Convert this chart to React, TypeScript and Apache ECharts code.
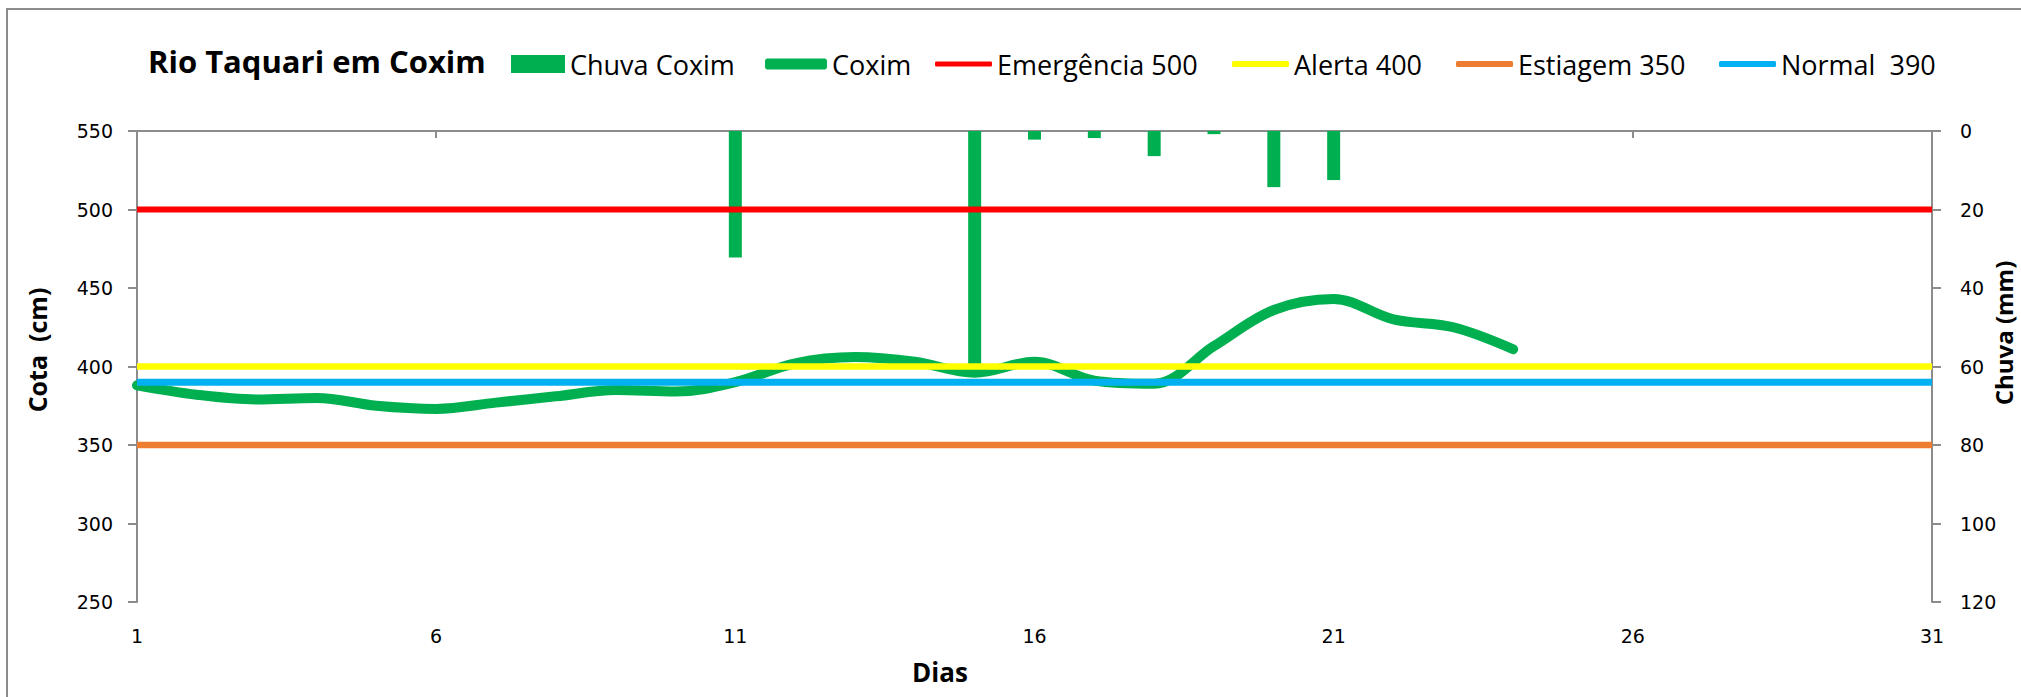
import React, { useEffect, useRef } from "react";
import * as echarts from "echarts";

// ---- data ----
const coximDays = [1, 2, 3, 4, 5, 6, 7, 8, 9, 10, 11, 12, 13, 14, 15, 16, 17, 18, 19, 20, 21, 22, 23, 24];
const coximCota = [388, 382, 379, 380, 375, 373, 377, 381, 385, 384, 390, 402, 406, 403, 396, 403, 391, 389, 413, 436, 443, 430, 425, 411];
const chuvaDays = [11, 15, 16, 17, 18, 19, 20, 21];
const chuvaMm = [32.2, 62.6, 2.2, 1.8, 6.4, 0.8, 14.3, 12.5];
const dayRange = [1, 31];
const levelNames = ["Emergência 500", "Alerta 400", "Estiagem 350", "Normal  390"];
const levelValues = [500, 400, 350, 390];
const cotaTicks = { min: 250, max: 550, interval: 50 };
const chuvaTicks = { min: 0, max: 120, interval: 20 };
const dayTicks = { min: 1, max: 31, interval: 5 };

// ---- styles ----
const GREEN = "#00B050";
const levelColors = ["#FF0000", "#FFFF00", "#ED7D31", "#00B0F0"];
const levelWidths = [6, 6.5, 6.5, 7];
const AXIS = "#8c8c8c";
const TICK_FONT = "DejaVu Sans";
const TEXT_FONT = "Open Sans";

export default function App() {
  const ref = useRef<HTMLDivElement>(null);

  useEffect(() => {
    if (!ref.current) return;
    const chart = echarts.init(ref.current, undefined, { renderer: "svg" });

    const legendBase = {
      top: 50,
      padding: 0,
      selectedMode: false,
      textStyle: { fontFamily: TEXT_FONT, fontSize: 27, color: "#000", lineHeight: 28 },
    };
    const levelLegendLeft = [935, 1232, 1456, 1719];

    const legends: any[] = [
      { ...legendBase, left: 511, data: [{ name: "Chuva Coxim", icon: "rect" }], itemWidth: 54, itemHeight: 18 },
      { ...legendBase, left: 765, data: [{ name: "Coxim", icon: "roundRect" }], itemWidth: 62, itemHeight: 11 },
      ...levelNames.map((n, i) => ({
        ...legendBase,
        left: levelLegendLeft[i],
        data: [{ name: n, icon: "roundRect" }],
        itemWidth: 57,
        itemHeight: i === 0 ? 5 : 6,
      })),
    ];

    const series: any[] = [
      {
        name: "Chuva Coxim",
        type: "bar",
        xAxisIndex: 0,
        yAxisIndex: 1,
        barWidth: 13,
        color: GREEN,
        itemStyle: { color: GREEN },
        data: chuvaDays.map((d, i) => [d, chuvaMm[i]]),
      },
      {
        name: "Coxim",
        type: "line",
        yAxisIndex: 0,
        smooth: 0.35,
        symbol: "none",
        color: GREEN,
        lineStyle: { color: GREEN, width: 10, cap: "round", join: "round" },
        data: coximDays.map((d, i) => [d, coximCota[i]]),
      },
      ...levelNames.map((n, i) => ({
        name: n,
        type: "line",
        yAxisIndex: 0,
        symbol: "none",
        color: levelColors[i],
        lineStyle: { color: levelColors[i], width: levelWidths[i] },
        data: dayRange.map((d) => [d, levelValues[i]]),
      })),
    ];

    chart.setOption({
      animation: false,
      backgroundColor: "#ffffff",
      grid: { left: 137, right: 89, top: 131, bottom: 95 },
      legend: legends,
      xAxis: {
        type: "value",
        min: dayTicks.min,
        max: dayTicks.max,
        interval: dayTicks.interval,
        axisLine: { show: true, lineStyle: { color: AXIS, width: 2 } },
        axisTick: { show: true, length: 7, lineStyle: { color: AXIS, width: 2 } },
        axisLabel: { fontFamily: TICK_FONT, fontSize: 19, color: "#000", margin: 24 },
        splitLine: { show: false },
      },
      yAxis: [
        {
          type: "value",
          position: "left",
          min: cotaTicks.min,
          max: cotaTicks.max,
          interval: cotaTicks.interval,
          axisLine: { show: true, lineStyle: { color: AXIS, width: 2 } },
          axisTick: { show: true, length: 9, lineStyle: { color: AXIS, width: 2 } },
          axisLabel: { fontFamily: TICK_FONT, fontSize: 19, color: "#000", margin: 24 },
          splitLine: { show: false },
        },
        {
          type: "value",
          position: "right",
          inverse: true,
          min: chuvaTicks.min,
          max: chuvaTicks.max,
          interval: chuvaTicks.interval,
          axisLine: { show: true, lineStyle: { color: AXIS, width: 2 } },
          axisTick: { show: true, length: 9, lineStyle: { color: AXIS, width: 2 } },
          axisLabel: { fontFamily: TICK_FONT, fontSize: 19, color: "#000", margin: 28 },
          splitLine: { show: false },
        },
      ],
      graphic: [
        {
          type: "rect",
          shape: { x: 7, y: 9, width: 2040, height: 720 },
          style: { fill: "none", stroke: AXIS, lineWidth: 2 },
          silent: true,
          z: 0,
        },
        {
          type: "text",
          x: 148,
          y: 61,
          style: {
            text: "Rio Taquari em Coxim",
            font: `bold 31px "${TEXT_FONT}"`,
            fill: "#000",
            textAlign: "left",
            textVerticalAlign: "middle",
          },
        },
        {
          type: "text",
          x: 37,
          y: 350,
          rotation: Math.PI / 2,
          style: {
            text: "Cota  (cm)",
            font: `bold 25px "${TEXT_FONT}"`,
            fill: "#000",
            textAlign: "center",
            textVerticalAlign: "middle",
          },
        },
        {
          type: "text",
          x: 2003,
          y: 333,
          rotation: Math.PI / 2,
          style: {
            text: "Chuva (mm)",
            font: `bold 24px "${TEXT_FONT}"`,
            fill: "#000",
            textAlign: "center",
            textVerticalAlign: "middle",
          },
        },
        {
          type: "text",
          x: 940,
          y: 672,
          style: {
            text: "Dias",
            font: `bold 26px "${TEXT_FONT}"`,
            fill: "#000",
            textAlign: "center",
            textVerticalAlign: "middle",
          },
        },
      ],
      series,
    });

    return () => chart.dispose();
  }, []);

  return (
    <div
      ref={ref}
      style={{ position: "absolute", left: 0, top: 0, width: 2021, height: 697, background: "#fff" }}
    />
  );
}
